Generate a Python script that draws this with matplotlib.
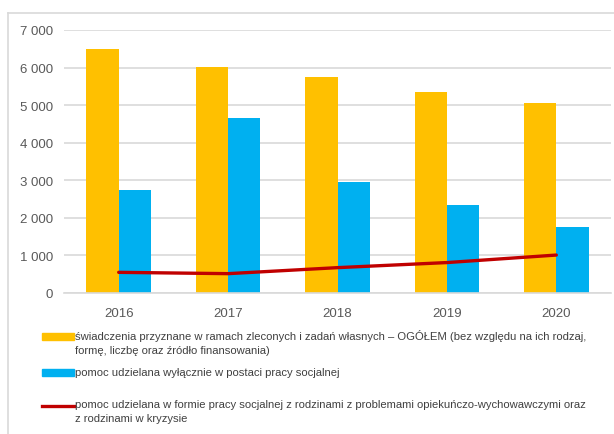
import matplotlib.pyplot as plt
from matplotlib.patches import Rectangle
from matplotlib.lines import Line2D
import numpy as np

years = ['2016', '2017', '2018', '2019', '2020']
swiadczenia = [6490, 6020, 5760, 5355, 5070]
praca_socjalna = [2750, 4645, 2960, 2355, 1750]
rodziny_kryzys = [550, 515, 675, 810, 1010]
yticks = [0, 1000, 2000, 3000, 4000, 5000, 6000, 7000]
ytick_labels = ['0', '1 000', '2 000', '3 000', '4 000', '5 000', '6 000', '7 000']

legend_labels = [
    'świadczenia przyznane w ramach zleconych i zadań własnych – OGÓŁEM (bez względu na ich rodzaj,\nformę, liczbę oraz źródło finansowania)',
    'pomoc udzielana wyłącznie w postaci pracy socjalnej',
    'pomoc udzielana w formie pracy socjalnej z rodzinami z problemami opiekuńczo-wychowawczymi oraz\nz rodzinami w kryzysie',
]

yellow = '#FFC000'
blue = '#00B0F0'
red = '#C00000'
grey_txt = '#595959'

plt.rcParams['font.family'] = ['Liberation Sans', 'DejaVu Sans']

W, H = 614, 435
fig = plt.figure(figsize=(W / 100, H / 100), dpi=100)
ax = fig.add_axes([64 / W, 1 - 294 / H, 547 / W, 263 / H])

x = np.arange(len(years))
bw = 0.295
ax.bar(x - bw / 2, swiadczenia, width=bw, color=yellow, zorder=2)
ax.bar(x + bw / 2, praca_socjalna, width=bw, color=blue, zorder=2)
ax.plot(x, rodziny_kryzys, color=red, linewidth=2.4, solid_capstyle='round', zorder=3)

ax.set_xlim(-0.5, len(years) - 0.5)
ax.set_ylim(0, 7000)
ax.set_yticks(yticks)
ax.set_yticklabels(ytick_labels)
ax.set_xticks(x)
ax.set_xticklabels(years)
ax.yaxis.grid(True, color='#d9d9d9', linewidth=1.2, zorder=0)
ax.set_axisbelow(True)
for s in ['top', 'right', 'left']:
    ax.spines[s].set_visible(False)
ax.spines['bottom'].set_color('#d9d9d9')
ax.spines['bottom'].set_linewidth(1.2)
ax.tick_params(axis='both', length=0, colors=grey_txt, labelsize=9.5)
ax.tick_params(axis='y', pad=8)
ax.tick_params(axis='x', pad=10)

# outer frame (top and left visible)
fig.add_artist(Line2D([8 / W, 1], [1 - 14 / H, 1 - 14 / H], color='#d9d9d9', linewidth=1.2))
fig.add_artist(Line2D([8 / W, 8 / W], [0, 1 - 14 / H], color='#d9d9d9', linewidth=1.2))

# legend drawn by hand
tx = 75 / W
fs = 8.1
fig.add_artist(Rectangle((42 / W, 1 - 341 / H), 32 / W, 7 / H, color=yellow))
fig.text(tx, 1 - 330 / H, legend_labels[0], fontsize=fs, color='#404040',
         va='top', ha='left', linespacing=1.55)
fig.add_artist(Rectangle((42 / W, 1 - 377 / H), 32 / W, 7 / H, color=blue))
fig.text(tx, 1 - 373 / H, legend_labels[1], fontsize=fs, color='#404040',
         va='center', ha='left')
fig.add_artist(Line2D([42 / W, 74 / W], [1 - 407 / H, 1 - 407 / H], color=red, linewidth=2.4))
fig.text(tx, 1 - 400 / H, legend_labels[2], fontsize=fs, color='#404040',
         va='top', ha='left', linespacing=1.55)

fig.savefig('out.png', dpi=100)
